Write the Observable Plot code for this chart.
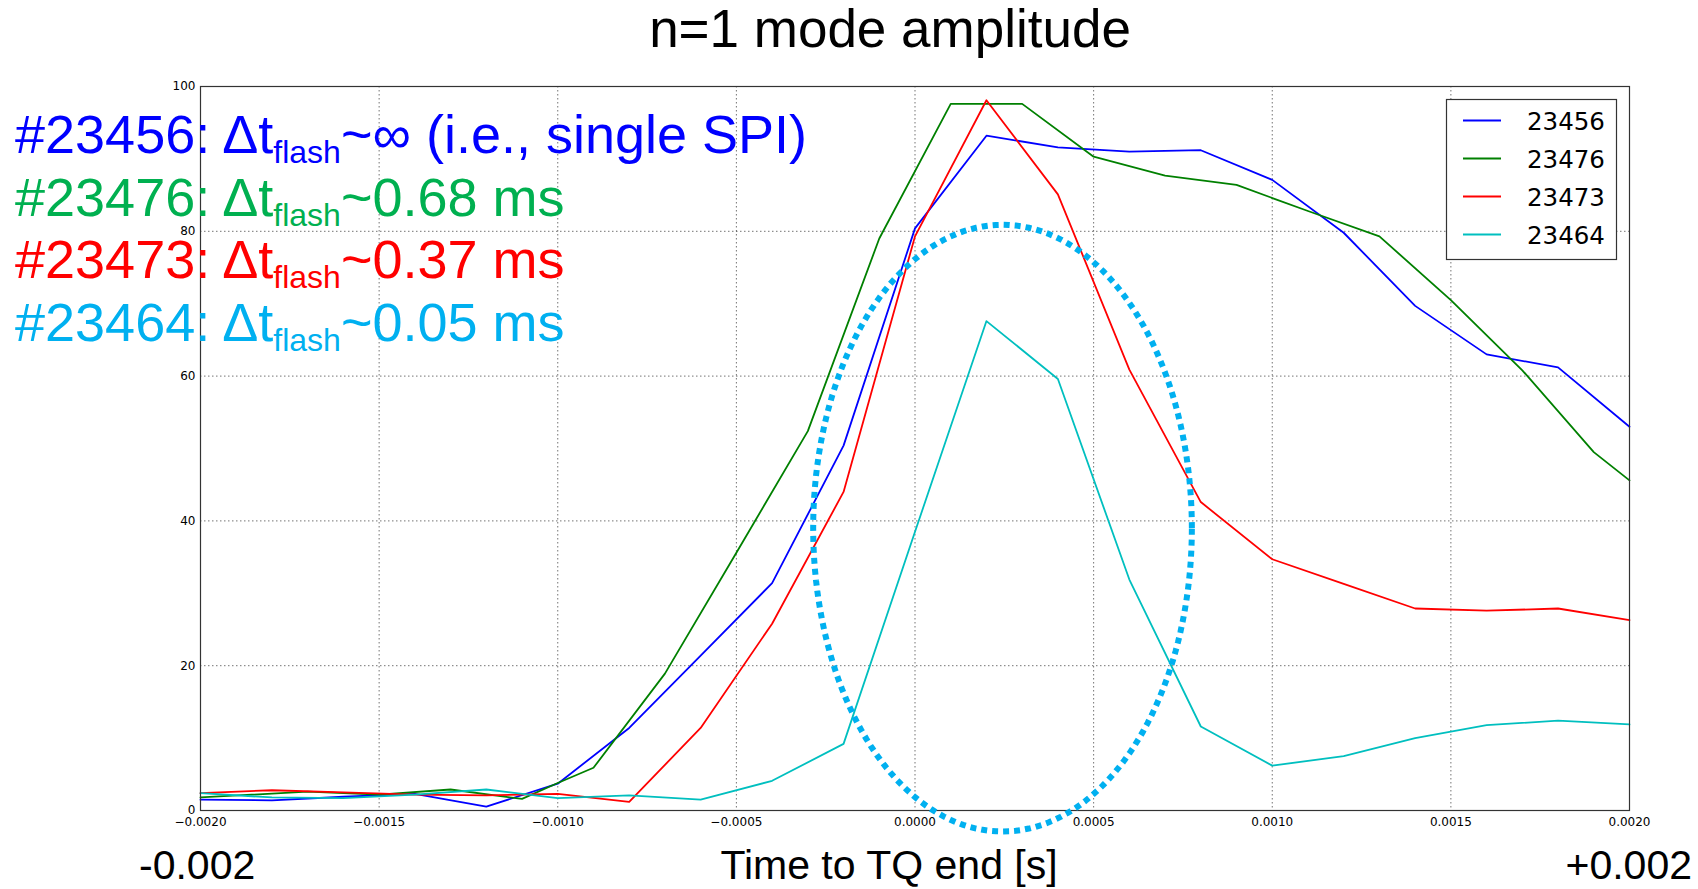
<!DOCTYPE html>
<html><head><meta charset="utf-8">
<script src="https://cdn.jsdelivr.net/npm/d3@7"></script>
<script src="https://cdn.jsdelivr.net/npm/@observablehq/plot@0.6"></script>
<style>body{margin:0;background:#fff}</style>
</head><body><div id="chart"></div>
<script>
// ---- data ----
const shots = ["23456", "23476", "23473", "23464"];
const lineColors = ["#0000ff", "#008000", "#ff0000", "#00bfbf"];
const noteColors = ["#0000ff", "#00b050", "#ff0000", "#00b0f0"];
const noteDt = ["~\u221e (i.e., single SPI)", "~0.68 ms", "~0.37 ms", "~0.05 ms"];

const t23456 = [-0.002,-0.0018,-0.0016,-0.0014,-0.0012,-0.0010,-0.0008,-0.0006,-0.0004,-0.0002,0,0.0002,0.0004,0.0006,0.0008,0.0010,0.0012,0.0014,0.0016,0.0018,0.0020];
const a23456 = [1.5,1.4,1.9,2.3,0.55,3.7,11.4,21.4,31.4,50.4,80.4,93.2,91.6,91.0,91.2,87.1,79.8,69.7,63.0,61.2,53.0];

const t23476 = [-0.002,-0.0017,-0.0015,-0.0013,-0.0011,-0.0010,-0.0009,-0.0007,-0.0005,-0.0003,-0.0001,0.0001,0.0003,0.0005,0.0007,0.0009,0.0011,0.0013,0.0015,0.0017,0.0019,0.0020];
const a23476 = [1.8,2.6,2.2,2.9,1.6,3.8,5.9,18.9,35.6,52.4,79.0,97.6,97.6,90.3,87.7,86.4,82.8,79.3,70.5,60.8,49.5,45.6];

const t23473 = [-0.002,-0.0018,-0.0016,-0.0014,-0.0012,-0.0010,-0.0008,-0.0006,-0.0004,-0.0002,0,0.0002,0.0004,0.0006,0.0008,0.0010,0.0012,0.0014,0.0016,0.0018,0.0020];
const a23473 = [2.4,2.8,2.5,2.2,2.1,2.3,1.2,11.4,25.8,44.0,79.3,98.1,85.1,60.9,42.6,34.7,31.3,27.9,27.6,27.9,26.3];

const t23464 = [-0.002,-0.0018,-0.0016,-0.0014,-0.0012,-0.0010,-0.0008,-0.0006,-0.0004,-0.0002,0,0.0002,0.0004,0.0006,0.0008,0.0010,0.0012,0.0014,0.0016,0.0018,0.0020];
const a23464 = [2.4,1.8,1.7,2.2,2.9,1.7,2.1,1.5,4.1,9.2,38.5,67.6,59.6,31.9,11.6,6.2,7.5,10.0,11.8,12.4,11.9];

const xTicks = [-0.002,-0.0015,-0.001,-0.0005,0,0.0005,0.001,0.0015,0.002];
const yTicks = [0,20,40,60,80,100];

// highlight ellipse (annotation): center and radii in data units
const ellipseCenter = [0.000245, 39.0];
const ellipseRadii = [0.00053, 41.9];

// ---- build ----
const series = [[t23456,a23456],[t23476,a23476],[t23473,a23473],[t23464,a23464]];
const rows = series.flatMap(([t,a],i) => t.map((x,j) => ({t:x, a:a[j], shot:shots[i]})));
const ell = d3.range(0, 361, 2).map(d => {
  const th = d * Math.PI / 180;
  return {t: ellipseCenter[0] + ellipseRadii[0]*Math.cos(th), a: ellipseCenter[1] + ellipseRadii[1]*Math.sin(th)};
});

const W = 1698, H = 889;
const svg = Plot.plot({
  width: W, height: H,
  marginLeft: 200, marginRight: 69, marginTop: 86, marginBottom: 79,
  style: {fontFamily: "DejaVu Sans", fontSize: "12px", color: "#000", background: "#fff"},
  x: {domain: [-0.002, 0.002], ticks: xTicks, tickFormat: d3.format(".4f"), label: null, tickSize: 0, tickPadding: 7},
  y: {domain: [0, 100], ticks: yTicks, label: null, tickSize: 0, tickPadding: 5},
  color: {domain: shots, range: lineColors},
  marks: [
    Plot.gridX(xTicks, {stroke: "#000", strokeOpacity: 0.55, strokeDasharray: "1.5,2.5"}),
    Plot.gridY(yTicks, {stroke: "#000", strokeOpacity: 0.55, strokeDasharray: "1.5,2.5"}),
    Plot.line(rows, {x: "t", y: "a", z: "shot", stroke: "shot", strokeWidth: 1.8}),
    Plot.frame({stroke: "#333", strokeWidth: 1.2}),
    Plot.line(ell, {x: "t", y: "a", stroke: "#00b0f0", strokeWidth: 6, strokeDasharray: "6,5", strokeLinecap: "butt"})
  ]
});
document.getElementById("chart").append(svg);

const s = d3.select(svg);
const sans = "Liberation Sans, Arial, sans-serif";
// title
s.append("text").attr("x", 890).attr("y", 47).attr("text-anchor", "middle")
  .attr("font-family", sans).attr("font-size", 53).attr("fill", "#000").text("n=1 mode amplitude");

// annotations
shots.forEach((sh, i) => {
  const t = s.append("text").attr("x", 15).attr("y", 153 + i*62.5).attr("text-anchor", "start")
    .attr("font-family", sans).attr("font-size", 54).attr("fill", noteColors[i]);
  t.append("tspan").text("#" + sh + ": \u0394t");
  t.append("tspan").attr("font-size", 32).attr("dy", 10).text("flash");
  t.append("tspan").attr("dy", -10).text(noteDt[i]);
});

// bottom labels
s.append("text").attr("x", 139).attr("y", 879).attr("text-anchor", "start").attr("font-family", sans).attr("font-size", 41).attr("fill", "#000").text("-0.002");
s.append("text").attr("x", 889).attr("y", 879).attr("text-anchor", "middle").attr("font-family", sans).attr("font-size", 41).attr("fill", "#000").text("Time to TQ end [s]");
s.append("text").attr("x", 1692).attr("y", 879).attr("text-anchor", "end").attr("font-family", sans).attr("font-size", 41).attr("fill", "#000").text("+0.002");

// legend
const lg = s.append("g");
lg.append("rect").attr("x", 1446.5).attr("y", 99.5).attr("width", 170).attr("height", 160)
  .attr("fill", "#fff").attr("stroke", "#333").attr("stroke-width", 1.2);
shots.forEach((sh, i) => {
  const y = 120.5 + i*38;
  lg.append("line").attr("x1", 1463).attr("x2", 1501).attr("y1", y).attr("y2", y)
    .attr("stroke", lineColors[i]).attr("stroke-width", 2);
  lg.append("text").attr("x", 1527).attr("y", y + 9).attr("text-anchor", "start").attr("font-family", "DejaVu Sans")
    .attr("font-size", 24.5).attr("fill", "#000").text(sh);
});
</script>
</body></html>
